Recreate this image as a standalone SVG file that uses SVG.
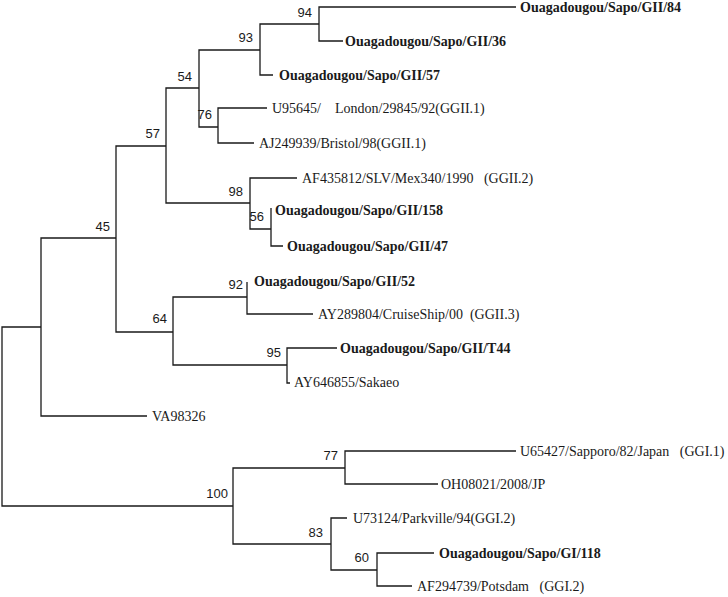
<svg xmlns="http://www.w3.org/2000/svg" width="728" height="597" viewBox="0 0 728 597">
<style>
.e{fill:none;stroke:#1a1a1a;stroke-width:1.3}
.b{font-family:"Liberation Sans",Arial,sans-serif;font-size:13px;fill:#1a1a1a;text-anchor:end}
.t{font-family:"Liberation Serif","Times New Roman",serif;font-size:14px;fill:#1a1a1a;white-space:pre}
.k{font-weight:bold}
</style>
<rect width="728" height="597" fill="#fff"/>
<g id="connectors">
<path class="e" d="M41,327 H2 V506 H233"/>
<path class="e" d="M116,238 H41 V416 H147"/>
<path class="e" d="M166,146 H116 V332 H173"/>
<path class="e" d="M199,88 H166 V203 H250"/>
<path class="e" d="M260,50 H199 V127 H218"/>
<path class="e" d="M319,24 H260 V75 H273"/>
<path class="e" d="M516,7 H319 V41 H343"/>
<path class="e" d="M267,108 H218 V143 H254"/>
<path class="e" d="M297,178 H250 V229 H271"/>
<path class="e" d="M271,208 V246 H283"/>
<path class="e" d="M247,297 H173 V365 H287"/>
<path class="e" d="M247,282 V314 H313"/>
<path class="e" d="M337,348 H287 V383 H290"/>
<path class="e" d="M345,468 H233 V544 H331"/>
<path class="e" d="M516,451 H345 V484 H438"/>
<path class="e" d="M347,518 H331 V570 H377"/>
<path class="e" d="M434,553 H377 V586 H412"/>
</g>
<g id="n94"><text class="b" x="312" y="17">94</text></g>
<g id="n93"><text class="b" x="253" y="42">93</text></g>
<g id="n54"><text class="b" x="192" y="81">54</text></g>
<g id="n76"><text class="b" x="212" y="119">76</text></g>
<g id="n57"><text class="b" x="160" y="138">57</text></g>
<g id="n98"><text class="b" x="243" y="196">98</text></g>
<g id="n56"><text class="b" x="264" y="221">56</text></g>
<g id="n45"><text class="b" x="110" y="231">45</text></g>
<g id="n92"><text class="b" x="243" y="289">92</text></g>
<g id="n64"><text class="b" x="167" y="323">64</text></g>
<g id="n95"><text class="b" x="281" y="357">95</text></g>
<g id="n100"><text class="b" x="228" y="498">100</text></g>
<g id="n77"><text class="b" x="338" y="460">77</text></g>
<g id="n83"><text class="b" x="323" y="537">83</text></g>
<g id="n60"><text class="b" x="369" y="562">60</text></g>
<g id="l84"><text class="t k" x="520" y="12">Ouagadougou/Sapo/GII/84</text></g>
<g id="l36"><text class="t k" x="345" y="46">Ouagadougou/Sapo/GII/36</text></g>
<g id="l57"><text class="t k" x="279" y="80">Ouagadougou/Sapo/GII/57</text></g>
<g id="lU95645"><text class="t" x="272" y="113" xml:space="preserve">U95645/    London/29845/92(GGII.1)</text></g>
<g id="lAJ249939"><text class="t" x="259" y="148">AJ249939/Bristol/98(GGII.1)</text></g>
<g id="lAF435812"><text class="t" x="302" y="183" xml:space="preserve">AF435812/SLV/Mex340/1990   (GGII.2)</text></g>
<g id="l158"><text class="t k" x="275" y="215">Ouagadougou/Sapo/GII/158</text></g>
<g id="l47"><text class="t k" x="287" y="251">Ouagadougou/Sapo/GII/47</text></g>
<g id="l52"><text class="t k" x="254" y="286">Ouagadougou/Sapo/GII/52</text></g>
<g id="lAY289804"><text class="t" x="318" y="319" xml:space="preserve">AY289804/CruiseShip/00  (GGII.3)</text></g>
<g id="lT44"><text class="t k" x="340" y="353">Ouagadougou/Sapo/GII/T44</text></g>
<g id="lAY646855"><text class="t" x="294" y="387">AY646855/Sakaeo</text></g>
<g id="lVA98326"><text class="t" x="152" y="421">VA98326</text></g>
<g id="lU65427"><text class="t" x="520" y="456" xml:space="preserve">U65427/Sapporo/82/Japan   (GGI.1)</text></g>
<g id="lOH08021"><text class="t" x="441" y="489">OH08021/2008/JP</text></g>
<g id="lU73124"><text class="t" x="353" y="523">U73124/Parkville/94(GGI.2)</text></g>
<g id="l118"><text class="t k" x="439" y="558">Ouagadougou/Sapo/GI/118</text></g>
<g id="lAF294739"><text class="t" x="417" y="591" xml:space="preserve">AF294739/Potsdam   (GGI.2)</text></g>
</svg>
